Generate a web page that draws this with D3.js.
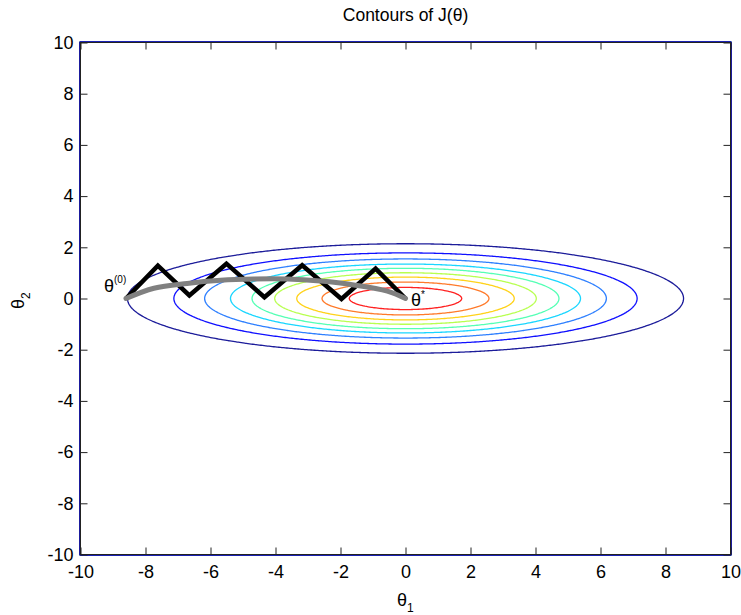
<!DOCTYPE html>
<html>
<head>
<meta charset="utf-8">
<script src="https://cdn.jsdelivr.net/npm/d3@7"></script>
<style>
  html, body { margin: 0; padding: 0; background: #fff; }
  svg { display: block; }
  text { font-family: "Liberation Sans", Arial, sans-serif; fill: #000; }
</style>
</head>
<body>
<svg id="chart" width="741" height="615"></svg>
<script>
// ---- data ----
const xTicks = [-10, -8, -6, -4, -2, 0, 2, 4, 6, 8, 10];
const yTicks = [-10, -8, -6, -4, -2, 0, 2, 4, 6, 8, 10];
// contour levels of J(θ) = θ1² + 16·θ2² (outer → inner)
const contourLevels = [73.2, 50.8, 38.2, 29.0, 22.3, 16.2, 11.2, 6.6, 3.0];
const contourColors = ["#1c1c9a", "#1010ff", "#2f80ff", "#1ad6ff", "#55ffb5", "#b8ff50", "#ffd21a", "#ff7a2a", "#ff2222"];
const thetaWeight = [1, 16];
// zig-zag gradient descent path
const zigX = [-8.6, -7.62, -6.65, -5.51, -4.34, -3.18, -1.97, -0.92, 0];
const zigY = [0.0, 1.28, 0.12, 1.36, 0.05, 1.30, -0.02, 1.17, 0.0];
// smooth path
const smoothX = [-8.6, -7.74, -6.72, -5.69, -4.67, -3.64, -2.62, -1.59, -0.56, 0];
const smoothY = [0.0, 0.40, 0.59, 0.71, 0.76, 0.76, 0.68, 0.53, 0.29, 0.0];

// ---- layout ----
const L = 80.5, R = 730.5, T = 42.5, B = 554.5;
const svg = d3.select("#chart");
const x = d3.scaleLinear().domain([-10, 10]).range([L, R]);
const y = d3.scaleLinear().domain([-10, 10]).range([B, T]);

// ---- contours ----
const step = 0.05, n = Math.round(20 / step) + 1;
const values = new Float64Array(n * n);
for (let j = 0; j < n; j++) {
  const ty = -10 + j * step;
  for (let i = 0; i < n; i++) {
    const tx = -10 + i * step;
    values[j * n + i] = thetaWeight[0] * tx * tx + thetaWeight[1] * ty * ty;
  }
}
const contours = d3.contours().size([n, n]).thresholds(contourLevels)(values);
const proj = d3.geoTransform({
  point: function(px, py) {
    this.stream.point(x(-10 + (px - 0.5) * step), y(-10 + (py - 0.5) * step));
  }
});
const gpath = d3.geoPath(proj);
svg.append("g").selectAll("path")
  .data(contours)
  .join("path")
  .attr("d", gpath)
  .attr("fill", "none")
  .attr("stroke", d => contourColors[contourLevels.indexOf(d.value)])
  .attr("stroke-width", 1.3);

// ---- paths ----
const zig = zigX.map((v, i) => [v, zigY[i]]);
const smooth = smoothX.map((v, i) => [v, smoothY[i]]);
svg.append("path")
  .attr("d", d3.line().x(d => x(d[0])).y(d => y(d[1]))(zig))
  .attr("fill", "none").attr("stroke", "#000").attr("stroke-width", 4.5)
  .attr("stroke-linejoin", "miter").attr("stroke-miterlimit", 10);
svg.append("path")
  .attr("d", d3.line().curve(d3.curveCatmullRom).x(d => x(d[0])).y(d => y(d[1]))(smooth))
  .attr("fill", "none").attr("stroke", "#808080").attr("stroke-width", 5)
  .attr("stroke-linecap", "round");

// ---- axes ----
const fs = "18px";
const fmt = d => String(d);
const gx = svg.append("g").attr("transform", `translate(0,${B})`)
  .call(d3.axisBottom(x).tickValues(xTicks).tickSizeInner(-7).tickSizeOuter(0).tickPadding(11).tickFormat(fmt));
const gy = svg.append("g").attr("transform", `translate(${L},0)`)
  .call(d3.axisLeft(y).tickValues(yTicks).tickSizeInner(-7).tickSizeOuter(0).tickPadding(7).tickFormat(fmt));
const gt = svg.append("g").attr("transform", `translate(0,${T})`)
  .call(d3.axisTop(x).tickValues(xTicks).tickSizeInner(-7).tickSizeOuter(0).tickFormat(""));
const gr = svg.append("g").attr("transform", `translate(${R},0)`)
  .call(d3.axisRight(y).tickValues(yTicks).tickSizeInner(-7).tickSizeOuter(0).tickFormat(""));
[gx, gy, gt, gr].forEach(g => {
  g.select(".domain").remove();
  g.selectAll("line").attr("stroke", "#222");
  g.selectAll("text").attr("font-size", fs).attr("font-family", "Liberation Sans, Arial, sans-serif").attr("fill", "#000");
});
svg.append("rect").attr("x", L).attr("y", T).attr("width", R - L).attr("height", B - T)
  .attr("fill", "none").attr("stroke", "#222").attr("stroke-width", 1);

// ---- text ----
svg.append("text").attr("x", (L + R) / 2).attr("y", 21).attr("text-anchor", "middle")
  .attr("font-size", "17.5px").text("Contours of J(θ)");

const xl = svg.append("text").attr("x", 397).attr("y", 606).attr("font-size", fs);
xl.append("tspan").text("θ");
xl.append("tspan").attr("font-size", "12px").attr("dy", 6).text("1");

const yl = svg.append("text").attr("transform", "translate(24,309) rotate(-90)").attr("font-size", fs);
yl.append("tspan").text("θ");
yl.append("tspan").attr("font-size", "12px").attr("dy", 6).text("2");

const t0 = svg.append("text").attr("x", 104).attr("y", 292).attr("font-size", fs);
t0.append("tspan").text("θ");
t0.append("tspan").attr("font-size", "10px").attr("dy", -9).text("(0)");

const ts = svg.append("text").attr("x", 411).attr("y", 306).attr("font-size", fs);
ts.append("tspan").text("θ");
ts.append("tspan").attr("font-size", "10px").attr("dy", -8).text("*");
</script>
</body>
</html>
